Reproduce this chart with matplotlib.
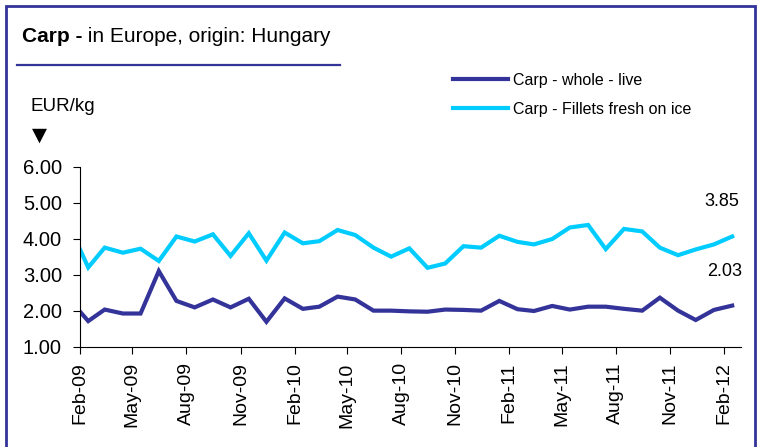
import matplotlib.pyplot as plt
import matplotlib.dates as mdates
from matplotlib.patches import Rectangle
import pandas as pd

# monthly prices, EUR/kg (mid-month), Jan-09 .. Feb-12
months = pd.date_range('2009-01-01', periods=38, freq='MS') + pd.Timedelta(days=14)
whole_live = [2.30, 1.72, 2.04, 1.93, 1.93, 3.11, 2.28, 2.10, 2.32, 2.10,
              2.34, 1.70, 2.35, 2.06, 2.12, 2.40, 2.32, 2.01, 2.01, 1.99,
              1.98, 2.04, 2.03, 2.01, 2.28, 2.05, 2.00, 2.14, 2.04, 2.12,
              2.12, 2.06, 2.01, 2.37, 2.01, 1.75, 2.03, 2.15]
fillets = [4.32, 3.21, 3.76, 3.62, 3.73, 3.39, 4.07, 3.93, 4.13, 3.53,
           4.16, 3.40, 4.18, 3.88, 3.94, 4.25, 4.11, 3.76, 3.51, 3.74,
           3.20, 3.32, 3.80, 3.76, 4.09, 3.92, 3.85, 4.00, 4.32, 4.39,
           3.72, 4.28, 4.21, 3.76, 3.55, 3.71, 3.85, 4.07]
labels = ['Carp - whole - live', 'Carp - Fillets fresh on ice']
end_labels = ['2.03', '3.85']

DARK = '#333399'
CYAN = '#00CCFF'
W, H = 757, 447

plt.rcParams['font.family'] = ['Liberation Sans', 'DejaVu Sans']

def fx(px):
    return px / W

def fy(py):
    return 1 - py / H

fig = plt.figure(figsize=(W / 100, H / 100), dpi=100)
ax = fig.add_axes([fx(80), fy(347), fx(741) - fx(80), fy(167) - fy(347)])

ax.plot(months, whole_live, color=DARK, lw=3, label=labels[0], solid_joinstyle='miter')
ax.plot(months, fillets, color=CYAN, lw=3, label=labels[1], solid_joinstyle='miter')

ax.set_xlim(pd.Timestamp('2009-02-01'), pd.Timestamp('2012-03-01'))
ax.set_ylim(1, 6)
ax.set_yticks([1, 2, 3, 4, 5, 6])
ax.yaxis.set_major_formatter(plt.FormatStrFormatter('%.2f'))
ax.xaxis.set_major_locator(mdates.MonthLocator(bymonth=[2, 5, 8, 11]))
ax.xaxis.set_major_formatter(mdates.DateFormatter('%b-%y'))
ax.tick_params(axis='x', rotation=90, labelsize=14, length=5, pad=6)
ax.tick_params(axis='y', labelsize=14.5, length=5, pad=8)
for s in ['top', 'right']:
    ax.spines[s].set_visible(False)

ax.legend(loc='upper left', bbox_to_anchor=(fx(453), fy(73)), bbox_transform=fig.transFigure,
          frameon=False, fontsize=11.5, handlelength=3.45, handletextpad=0.3,
          labelspacing=0.85, borderaxespad=0, borderpad=0)

fig.text(fx(722), fy(202), end_labels[1], fontsize=13, ha='center', va='center')
fig.text(fx(725), fy(271), end_labels[0], fontsize=13, ha='center', va='center')

# header
t1 = fig.text(fx(22), fy(42), 'Carp -', fontsize=15, fontweight='bold', va='baseline')
ax.annotate(' in Europe, origin: Hungary', xy=(1, 0), xycoords=t1, fontsize=15,
            va='bottom', ha='left', annotation_clip=False)
fig.add_artist(plt.Line2D([fx(17), fx(340)], [fy(65), fy(65)], color=DARK, lw=1.6))
fig.text(fx(30), fy(111), 'EUR/kg', fontsize=13.5, va='baseline')
fig.text(fx(39), fy(135), '\u25BC', fontsize=14, ha='center', va='center', family=['DejaVu Sans'])

fig.add_artist(Rectangle((fx(6), -0.05), fx(755) - fx(6), fy(6) + 0.05,
                         transform=fig.transFigure, fill=False, edgecolor=DARK, lw=2))

fig.savefig('out.png', dpi=100)
